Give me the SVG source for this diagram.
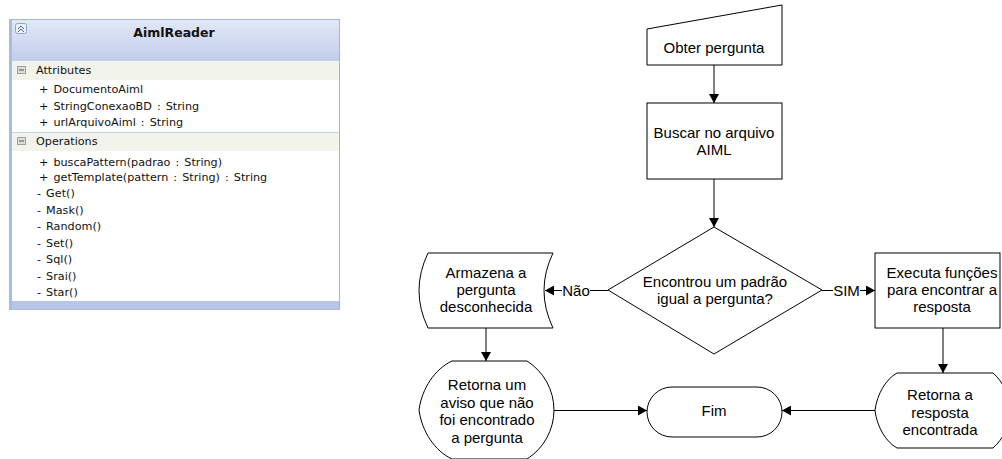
<svg xmlns="http://www.w3.org/2000/svg" width="1002" height="459" viewBox="0 0 1002 459">
<style>
.fc{font-family:"Liberation Sans",Arial,sans-serif;font-size:15px;fill:#000;text-anchor:middle}
.sh{fill:#fff;stroke:#000;stroke-width:1}
.ln{fill:none;stroke:#000;stroke-width:1}
.um{font-family:"DejaVu Sans",Tahoma,sans-serif;font-size:11.2px;fill:#111;word-spacing:1.5px}
.sec{fill:#f2f4ec}
.sep{stroke:#c3d1ee;stroke-width:1}
</style>
<defs>
<linearGradient id="hdr" x1="0" y1="0" x2="0" y2="1">
<stop offset="0" stop-color="#e2e8f6"/>
<stop offset="1" stop-color="#c2cdeb"/>
</linearGradient>
<marker id="ah" viewBox="0 0 9 10" refX="9" refY="5" markerWidth="9" markerHeight="10" markerUnits="userSpaceOnUse" orient="auto">
<path d="M0,0 L9,5 L0,10 Z" fill="#000"/>
</marker>
</defs>

<g id="uml-aimlreader">
<rect x="9.5" y="19.5" width="330" height="290" fill="#fff" stroke="#9fb4df"/>
<rect x="10" y="20" width="329" height="40" fill="url(#hdr)"/>
<rect x="10" y="60" width="329" height="20" class="sec"/>
<rect x="10" y="132" width="329" height="19" class="sec"/>
<rect x="10" y="301" width="329" height="8.5" fill="#b6c5e8"/>
<line x1="10" y1="60.5" x2="339" y2="60.5" class="sep"/>
<line x1="10" y1="132.5" x2="339" y2="132.5" class="sep"/>
<rect x="9" y="19" width="3" height="291" fill="#a7bbe3"/>
<rect x="15.5" y="23.5" width="11" height="10" rx="2" fill="#eef2fa" stroke="#8ea3cf"/>
<path d="M18,29 L21,26 L24,29 M18,32 L21,29 L24,32" fill="none" stroke="#4a5f8a" stroke-width="1"/>
<text x="174" y="37" style="font-family:'DejaVu Sans',Tahoma,sans-serif;font-size:12.5px;font-weight:bold;fill:#111;text-anchor:middle">AimlReader</text>
<rect x="17.5" y="66.5" width="8" height="7" fill="#dcdcdc" stroke="#a0a0a0"/>
<line x1="19" y1="70" x2="24" y2="70" stroke="#555"/>
<text x="36" y="74" class="um">Attributes</text>
<text x="39" y="93" class="um">+ DocumentoAiml</text>
<text x="39" y="109.5" class="um">+ StringConexaoBD : String</text>
<text x="39" y="126" class="um">+ urlArquivoAiml : String</text>
<rect x="17.5" y="137.5" width="8" height="7" fill="#dcdcdc" stroke="#a0a0a0"/>
<line x1="19" y1="141" x2="24" y2="141" stroke="#555"/>
<text x="36" y="145" class="um">Operations</text>
<text x="39" y="165.5" class="um">+ buscaPattern(padrao : String)</text>
<text x="39" y="181" class="um">+ getTemplate(pattern : String) : String</text>
<text x="37" y="197" class="um">- Get()</text>
<text x="37" y="213.5" class="um">- Mask()</text>
<text x="37" y="230" class="um">- Random()</text>
<text x="37" y="246.5" class="um">- Set()</text>
<text x="37" y="263" class="um">- Sql()</text>
<text x="37" y="279.5" class="um">- Srai()</text>
<text x="37" y="296" class="um">- Star()</text>
</g>

<g id="obter-pergunta">
<polygon class="sh" points="647,29 782,5 782,65 647,65"/>
<text class="fc" x="714" y="52.5">Obter pergunta</text>
</g>

<g id="buscar-aiml">
<rect class="sh" x="647" y="103" width="135" height="76"/>
<text class="fc" x="714" y="138">Buscar no arquivo</text>
<text class="fc" x="714" y="155">AIML</text>
</g>

<g id="decisao">
<polygon class="sh" points="714,227 822,290 714,354 608,290"/>
<text class="fc" x="715" y="287">Encontrou um padrão</text>
<text class="fc" x="715" y="304">igual a pergunta?</text>
</g>

<g id="armazena">
<path class="sh" d="M428,253 L553,253 Q535,290.5 553,328 L428,328 Q410,290.5 428,253 Z"/>
<text class="fc" x="486" y="278">Armazena a</text>
<text class="fc" x="486" y="295">pergunta</text>
<text class="fc" x="486" y="312">desconhecida</text>
</g>

<g id="retorna-aviso">
<path class="sh" d="M452,361 L527,361 A58,58 0 0 1 527,459 L452,459 C435,451 422,432 419,410 C422,388 435,369 452,361 Z"/>
<text class="fc" x="487" y="390">Retorna um</text>
<text class="fc" x="487" y="407.5">aviso que não</text>
<text class="fc" x="487" y="425">foi encontrado</text>
<text class="fc" x="487" y="442.5">a pergunta</text>
</g>

<g id="fim">
<rect class="sh" x="647" y="387" width="135" height="50" rx="25" ry="25"/>
<text class="fc" x="714" y="416">Fim</text>
</g>

<g id="executa">
<rect class="sh" x="875" y="253" width="125" height="75"/>
<text class="fc" x="942" y="278">Executa funções</text>
<text class="fc" x="942" y="295">para encontrar a</text>
<text class="fc" x="942" y="312">resposta</text>
</g>

<g id="retorna-resposta">
<path class="sh" d="M897,373 L993,373 A50,50 0 0 1 993,448 L897,448 C886,442 877,427 875,410.5 C877,394 886,379 897,373 Z"/>
<text class="fc" x="940" y="400">Retorna a</text>
<text class="fc" x="940" y="418">resposta</text>
<text class="fc" x="940" y="435">encontrada</text>
</g>

<g id="connectors">
<line class="ln" x1="714" y1="65" x2="714" y2="103" marker-end="url(#ah)"/>
<line class="ln" x1="714" y1="179" x2="714" y2="227" marker-end="url(#ah)"/>
<line class="ln" x1="608" y1="290.5" x2="590" y2="290.5"/>
<text class="fc" x="576" y="295.5">Não</text>
<line class="ln" x1="562" y1="290.5" x2="545" y2="290.5" marker-end="url(#ah)"/>
<line class="ln" x1="822" y1="290.5" x2="833" y2="290.5"/>
<text class="fc" x="846.5" y="295.5">SIM</text>
<line class="ln" x1="860" y1="290.5" x2="875" y2="290.5" marker-end="url(#ah)"/>
<line class="ln" x1="486" y1="328" x2="486" y2="361" marker-end="url(#ah)"/>
<line class="ln" x1="554" y1="410.5" x2="647" y2="410.5" marker-end="url(#ah)"/>
<line class="ln" x1="943" y1="328" x2="943" y2="373" marker-end="url(#ah)"/>
<line class="ln" x1="875" y1="410.5" x2="782" y2="410.5" marker-end="url(#ah)"/>
</g>
</svg>
